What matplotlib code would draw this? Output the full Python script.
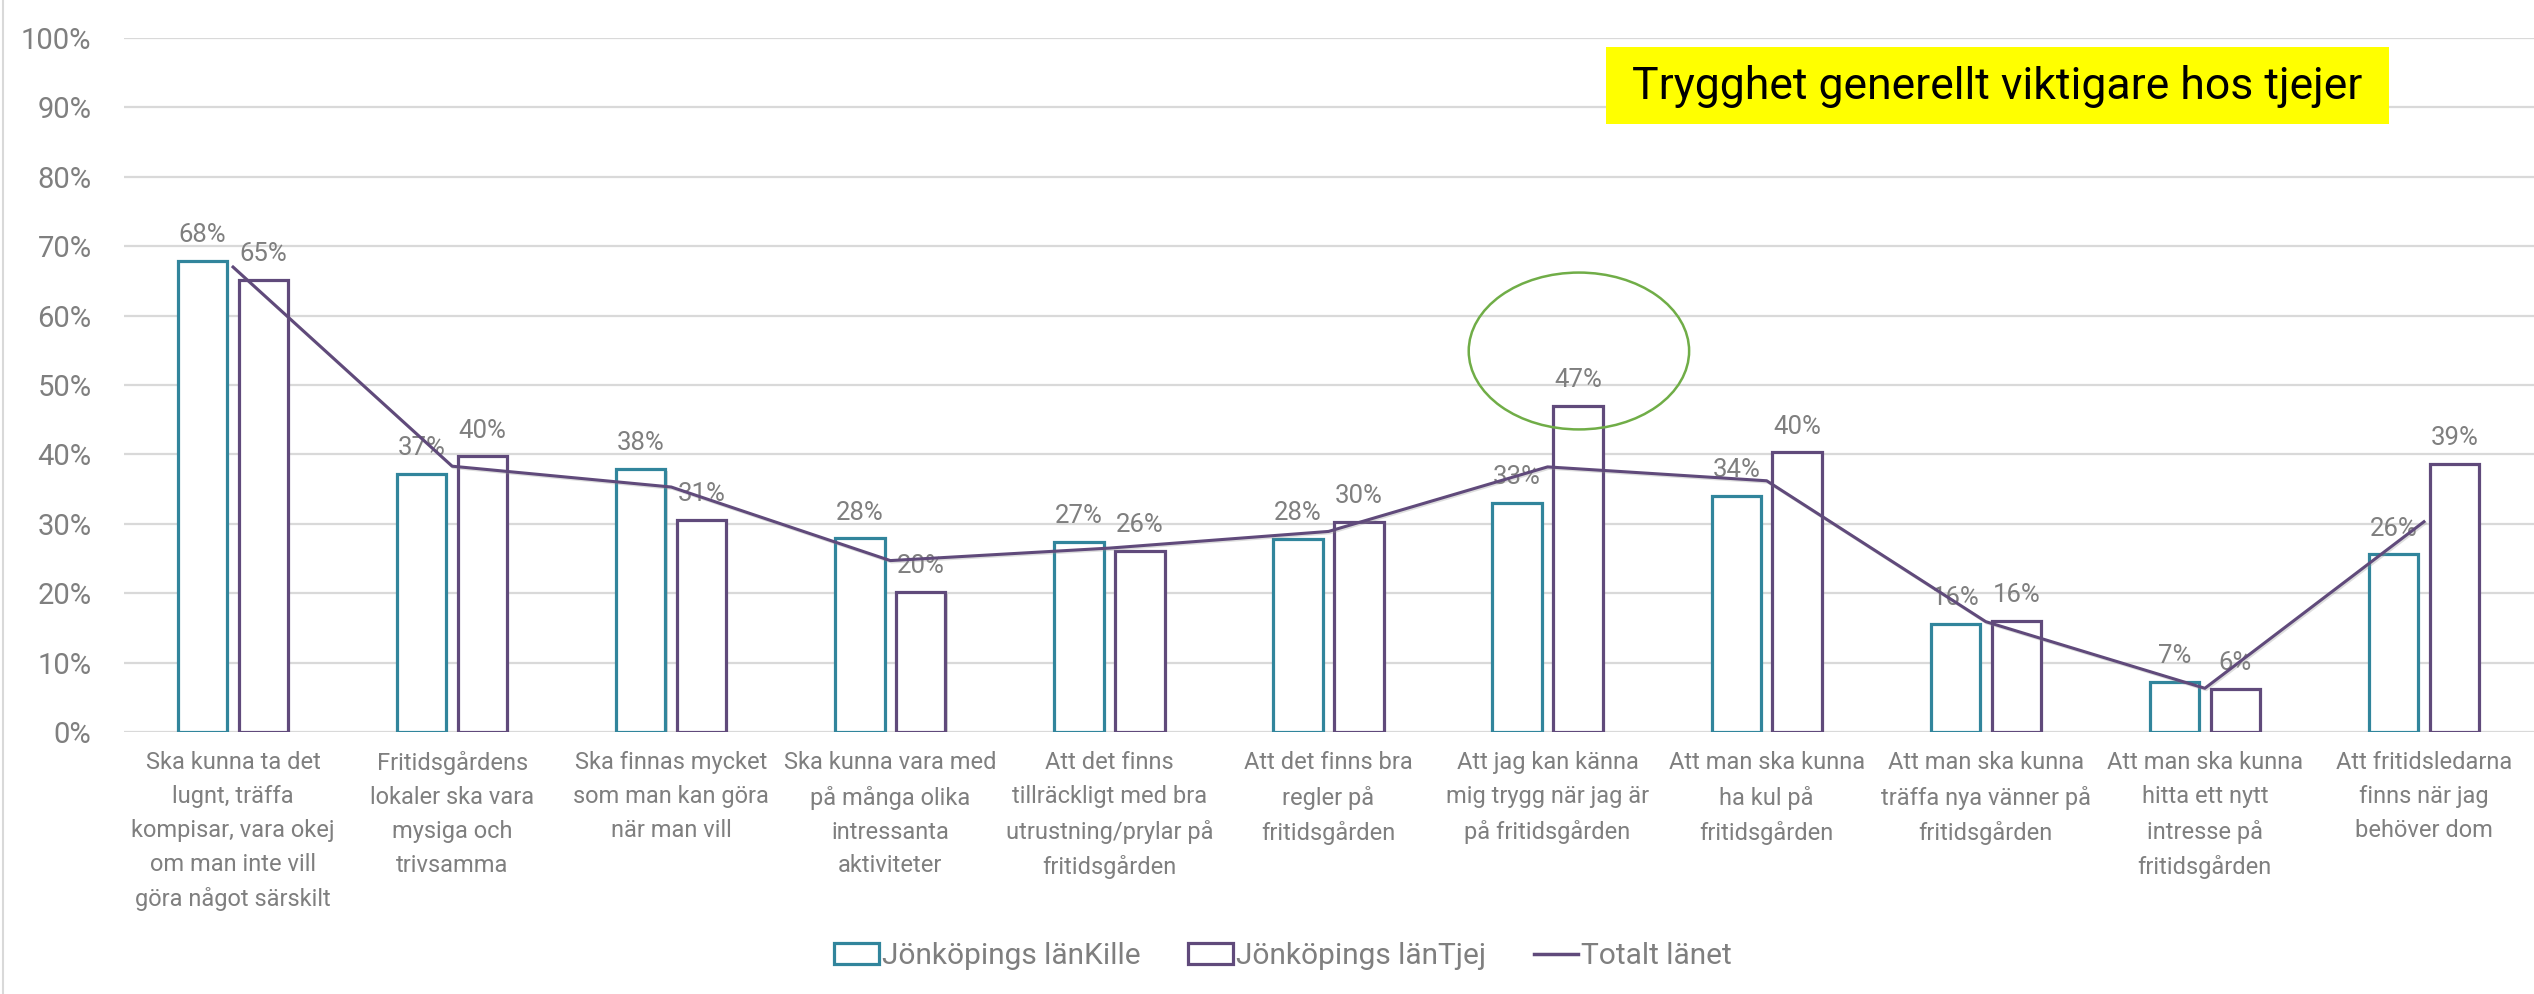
import matplotlib
matplotlib.use("Agg")
import matplotlib.pyplot as plt
import numpy as np
from matplotlib.patches import Ellipse, Rectangle, Patch
from matplotlib.lines import Line2D
import matplotlib.patheffects as pe

categories = [
    "Ska kunna ta det\nlugnt, träffa\nkompisar, vara okej\nom man inte vill\ngöra något särskilt",
    "Fritidsgårdens\nlokaler ska vara\nmysiga och\ntrivsamma",
    "Ska finnas mycket\nsom man kan göra\nnär man vill",
    "Ska kunna vara med\npå många olika\nintressanta\naktiviteter",
    "Att det finns\ntillräckligt med bra\nutrustning/prylar på\nfritidsgården",
    "Att det finns bra\nregler på\nfritidsgården",
    "Att jag kan känna\nmig trygg när jag är\npå fritidsgården",
    "Att man ska kunna\nha kul på\nfritidsgården",
    "Att man ska kunna\nträffa nya vänner på\nfritidsgården",
    "Att man ska kunna\nhitta ett nytt\nintresse på\nfritidsgården",
    "Att fritidsledarna\nfinns när jag\nbehöver dom",
]
kille = [67.9, 37.2, 37.9, 27.9, 27.4, 27.8, 33.0, 34.0, 15.6, 7.2, 25.6]
tjej = [65.1, 39.7, 30.6, 20.2, 26.1, 30.3, 47.0, 40.3, 16.0, 6.2, 38.6]
totalt = [67.0, 38.3, 35.3, 24.7, 26.5, 28.9, 38.2, 36.2, 15.9, 6.3, 30.3]
series_names = ["Jönköpings länKille", "Jönköpings länTjej", "Totalt länet"]
yticks = [0, 10, 20, 30, 40, 50, 60, 70, 80, 90, 100]
annotation_text = "Trygghet generellt viktigare hos tjejer"

TEAL = "#31859C"
PURPLE = "#604A7B"
GRID = "#D9D9D9"
TXT = "#7F7F7F"
FONT = ["Roboto", "DejaVu Sans"]
plt.rcParams["font.family"] = FONT

W, H = 2534, 994
fig = plt.figure(figsize=(W / 100, H / 100), dpi=100)
ax = fig.add_axes([123.5 / W, 1 - 732 / H, 2410 / W, (732 - 38) / H])

x = np.arange(len(categories))
bw = 0.225
off = 0.139
shadow = [pe.SimplePatchShadow(offset=(1.5, -1.5), shadow_rgbFace="#909090", alpha=0.35), pe.Normal()]
b1 = ax.bar(x - off, kille, width=bw, facecolor="white", edgecolor=TEAL, linewidth=2.3, zorder=3)
b2 = ax.bar(x + off, tjej, width=bw, facecolor="white", edgecolor=PURPLE, linewidth=2.3, zorder=3)
for b in list(b1) + list(b2):
    b.set_path_effects(shadow)

for xi, v in zip(x - off, kille):
    ax.annotate(f"{v:.0f}%", (xi, v), xytext=(0, 13.5), textcoords="offset points",
                ha="center", va="baseline", fontsize=18.5, color=TXT, zorder=4)
for xi, v in zip(x + off, tjej):
    ax.annotate(f"{v:.0f}%", (xi, v), xytext=(0, 13.5), textcoords="offset points",
                ha="center", va="baseline", fontsize=18.5, color=TXT, zorder=4)

ax.plot(x, totalt, color=PURPLE, linewidth=2.2, zorder=5,
        path_effects=[pe.SimpleLineShadow(offset=(1, -1), shadow_color="#909090", alpha=0.3), pe.Normal()])

ax.set_xlim(-0.5, len(categories) - 0.5)
ax.set_ylim(0, 100)
ax.set_yticks(yticks)
ax.set_yticklabels([f"{t}%" for t in yticks])
ax.yaxis.grid(True, color=GRID, linewidth=1.6, zorder=0)
ax.set_axisbelow(True)
ax.set_xticks(x)
ax.set_xticklabels(categories, fontsize=17, color=TXT, linespacing=1.6)
ax.tick_params(axis="x", length=0, pad=14)
ax.tick_params(axis="y", length=0, pad=23, labelsize=21, labelcolor=TXT)
for s in ax.spines.values():
    s.set_visible(False)

# highlight ellipse
ax.add_patch(Ellipse((6.143, 54.9), 1.006, 22.6, fill=False, edgecolor="#70AD47",
                     linewidth=1.8, zorder=6))

# yellow annotation box
fig.patches.append(Rectangle((1606 / W, 1 - 124 / H), (2389 - 1606) / W, (124 - 47) / H,
                             transform=fig.transFigure, facecolor="#FFFF00", edgecolor="none", zorder=1))
fig.text((1606 + 2389) / 2 / W, 1 - 86 / H, annotation_text, ha="center", va="center",
         fontsize=32, color="black", zorder=2)

# left chart border
fig.add_artist(Line2D([3 / W, 3 / W], [0, 1], transform=fig.transFigure, color=GRID, linewidth=1.5))

handles = [Patch(facecolor="white", edgecolor=TEAL, linewidth=2.3),
           Patch(facecolor="white", edgecolor=PURPLE, linewidth=2.3),
           Line2D([], [], color=PURPLE, linewidth=2.5)]
leg = fig.legend(handles, series_names, loc="center", bbox_to_anchor=(1283 / W, 1 - 956 / H),
                 ncol=3, frameon=False, fontsize=21.5, handlelength=1.5, handletextpad=0.1,
                 columnspacing=1.6, labelcolor=TXT)

fig.savefig("out.png", dpi=100)
